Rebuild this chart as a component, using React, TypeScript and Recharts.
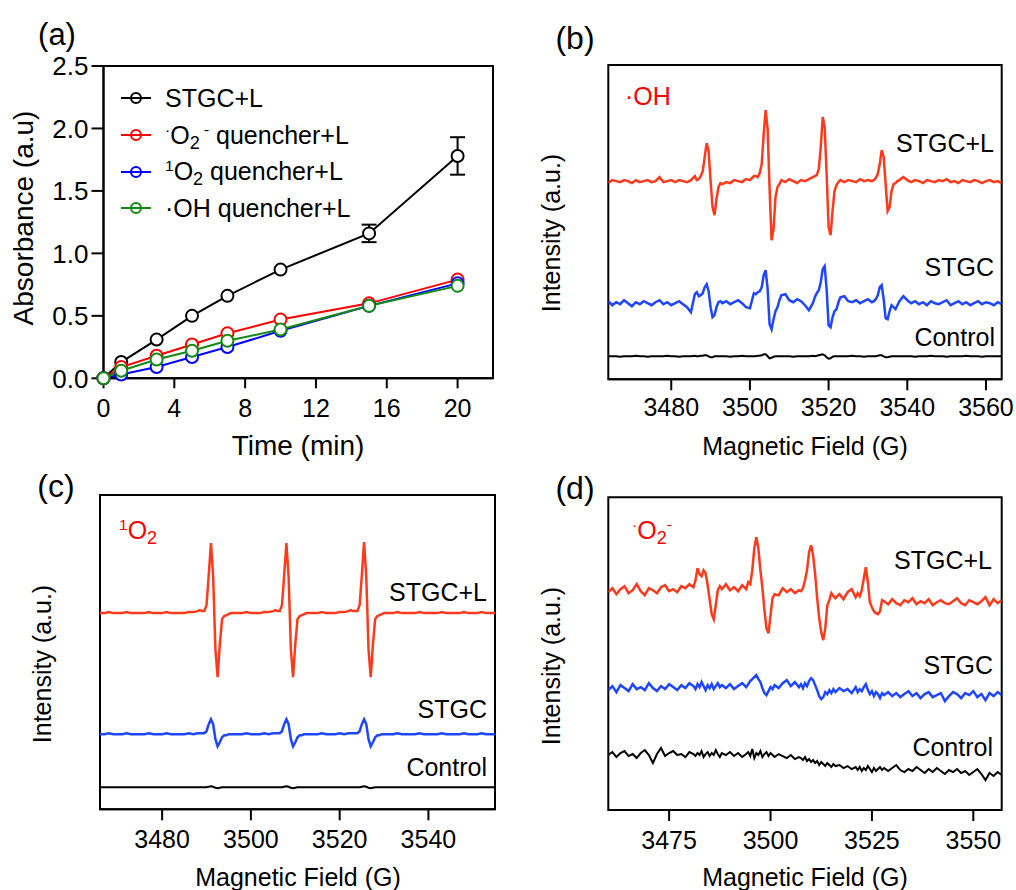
import React from 'react';
import { LineChart, Line, XAxis, YAxis, ErrorBar, Legend, ReferenceArea } from 'recharts';

const FONT = '"Liberation Sans", Arial, Helvetica, sans-serif';
const LABEL_RED = '#ff0000';
const SPEC_RED = '#ff3a1c';
const SPEC_BLUE = '#1e46ff';

// ---- (a) absorbance vs irradiation time ----
const timeMin = [0, 1, 3, 5, 7, 10, 15, 20];
const absStgcL = [0, 0.13, 0.31, 0.5, 0.66, 0.87, 1.16, 1.78];
const absStgcLErr = [0, 0, 0, 0, 0, 0, 0.07, 0.15];
const absO2Quench = [0, 0.09, 0.18, 0.27, 0.36, 0.47, 0.6, 0.79];
const absSingletQuench = [0, 0.03, 0.09, 0.17, 0.25, 0.38, 0.58, 0.76];
const absOHQuench = [0, 0.06, 0.15, 0.22, 0.3, 0.39, 0.58, 0.74];
const timeTicks = [0, 4, 8, 12, 16, 20];
const absTicks = [0, 0.5, 1, 1.5, 2, 2.5];

// ---- (b) DMPO-OH spectra ----
const ohField = [
  3464, 3465, 3466, 3467, 3468, 3469, 3470, 3471, 3472, 3473, 3474, 3475, 3476, 3477, 3478, 3479, 3480, 3481, 3482, 3483, 3484, 3485, 3486,
  3486.5, 3487, 3487.5, 3488, 3488.5, 3489, 3489.5, 3490, 3490.5, 3491, 3491.5, 3492, 3492.5, 3493,
  3494, 3495, 3496, 3497, 3498, 3499, 3500, 3501,
  3501.5, 3502, 3502.5, 3503, 3503.5, 3504, 3504.5, 3505, 3505.5, 3506, 3506.5, 3507, 3507.5, 3508,
  3509, 3510, 3511, 3512, 3513, 3514, 3515, 3516,
  3516.5, 3517, 3517.5, 3518, 3518.5, 3519, 3519.5, 3520, 3520.5, 3521, 3521.5, 3522, 3522.5, 3523,
  3524, 3525, 3526, 3527, 3528, 3529, 3530, 3531,
  3531.5, 3532, 3532.5, 3533, 3533.5, 3534, 3534.5, 3535, 3535.5, 3536, 3536.5, 3537, 3537.5, 3538,
  3539, 3540, 3541, 3542, 3543, 3544, 3545, 3546, 3547, 3548, 3549, 3550, 3551, 3552, 3553, 3554, 3555, 3556, 3557, 3558, 3559, 3560, 3561, 3562, 3563, 3564,
];
const ohStgcL = [
  196, 199, 198, 197, 199, 198, 196, 199, 197, 198, 199, 197, 198, 202, 197, 198, 199, 197, 199, 198, 197, 199, 203,
  199, 200, 203, 208, 222, 236, 228, 198, 172, 164, 180, 192, 196, 195,
  197, 196, 199, 198, 197, 200, 199, 203,
  203, 202, 206, 215, 245, 269, 250, 190, 139, 150, 182, 192, 195, 199,
  197, 200, 198, 196, 199, 198, 200, 202,
  203, 204, 210, 232, 262, 252, 205, 152, 144, 168, 188, 194, 197, 199,
  197, 199, 198, 197, 200, 198, 199, 198,
  199, 201, 205, 215, 229, 222, 195, 168, 172, 188, 195, 196, 198, 199,
  202, 199, 197, 199, 198, 196, 199, 198, 197, 199, 198, 200, 197, 198, 196, 199, 198, 197, 199, 198, 196, 198, 199, 197, 198, 196,
];
const ohStgc = [
  78, 74, 77, 75, 79, 76, 73, 77, 75, 78, 76, 74, 77, 79, 75, 77, 74, 76, 78, 75, 72, 67, 85,
  87, 83, 84, 86, 92, 95, 88, 72, 62, 64, 72, 77, 78, 76,
  78, 75, 77, 79, 76, 72, 71, 86,
  85, 87, 88, 92, 104, 109, 90, 55, 50, 60, 68, 72, 79, 84,
  85, 79, 77, 80, 78, 74, 69, 76,
  82, 86, 89, 97, 110, 113, 90, 54, 52, 62, 68, 70, 77, 82,
  83, 78, 77, 79, 76, 78, 80, 77,
  78, 80, 84, 92, 94, 80, 61, 60, 68, 74, 72, 70, 74, 78,
  83, 79, 76, 78, 75, 77, 74, 78, 76, 75, 77, 79, 74, 76, 78, 75, 77, 74, 76, 78, 75, 77, 76, 74, 77, 75,
];
const ohControl = [
  23, 23, 23, 22.5, 23, 23, 23, 23.5, 23, 23, 22.5, 23, 23, 23, 23, 23.5, 23, 23, 22.5, 23, 23, 23, 23.5,
  23, 23, 23.5, 23.5, 24, 24, 23, 22, 22, 23, 23, 23, 23, 23,
  23, 22.5, 23, 23, 23.5, 23, 23, 23,
  23, 23.5, 23.5, 24, 25, 25, 23, 21, 21.5, 22.5, 23, 23, 23, 23,
  23, 23, 22.5, 23, 23, 23, 23, 23.5,
  23, 23.5, 24, 24.5, 25, 24, 22, 20.5, 21, 22.5, 23, 23, 23, 23,
  23, 23, 23.5, 23, 23, 22.5, 23, 23,
  23, 23, 23.5, 24, 24, 23, 22, 22, 22.5, 23, 23, 23, 23, 23,
  23, 23, 23, 22.5, 23, 23, 23, 23.5, 23, 23, 23, 22.5, 23, 23, 23, 23, 23.5, 23, 23, 23, 22.5, 23, 23, 23, 23, 23,
];
const ohTicks = [3480, 3500, 3520, 3540, 3560];

// ---- (c) TEMP-1O2 spectra ----
const singletField = [
  3466, 3467, 3468, 3469, 3470, 3471, 3472, 3473, 3474, 3475, 3476, 3477, 3478, 3479, 3480, 3481, 3482, 3483, 3484, 3485, 3486, 3487, 3488,
  3488.5, 3489, 3489.5, 3490, 3490.5, 3491, 3491.5, 3492, 3492.5, 3493, 3493.5, 3494, 3494.5, 3495, 3495.5, 3496,
  3497, 3498, 3499, 3500, 3501, 3502, 3503, 3504, 3505,
  3505.5, 3506, 3506.5, 3507, 3507.5, 3508, 3508.5, 3509, 3509.5, 3510, 3510.5, 3511, 3511.5, 3512, 3512.5, 3513,
  3514, 3515, 3516, 3517, 3518, 3519, 3520, 3521, 3522,
  3522.5, 3523, 3523.5, 3524, 3524.5, 3525, 3525.5, 3526, 3526.5, 3527, 3527.5, 3528, 3528.5, 3529, 3529.5, 3530,
  3531, 3532, 3533, 3534, 3535, 3536, 3537, 3538, 3539, 3540, 3541, 3542, 3543, 3544, 3545, 3546, 3547, 3548, 3549, 3550, 3551, 3552, 3553, 3554, 3555,
];
const singletStgcL = [
  196, 196, 197, 196, 196, 196, 197, 196, 196, 196, 196, 197, 196, 196, 196, 197, 196, 196, 196, 196, 197, 197, 198,
  199, 198, 198, 204, 234, 266, 232, 160, 132, 165, 190, 193, 194, 195, 196, 196,
  196, 196, 197, 196, 196, 196, 197, 197, 198,
  199, 198, 198, 204, 234, 266, 232, 160, 132, 165, 190, 193, 194, 195, 196, 196,
  196, 196, 197, 196, 196, 196, 197, 197, 198,
  199, 198, 198, 198, 204, 234, 267, 232, 160, 132, 165, 190, 193, 194, 195, 196,
  196, 196, 197, 196, 196, 196, 196, 197, 196, 196, 196, 196, 197, 196, 196, 196, 196, 197, 196, 196, 196, 197, 196, 196, 196,
];
const singletStgc = [
  75, 75, 76, 75, 75, 75, 76, 75, 75, 75, 75, 76, 75, 75, 75, 76, 75, 75, 75, 75, 76, 75, 76,
  76, 76, 76, 78, 85, 90, 85, 70, 63, 67, 72, 74, 74, 75, 75, 75,
  75, 75, 76, 75, 75, 75, 76, 75, 76,
  76, 76, 76, 78, 85, 90, 85, 70, 63, 67, 72, 74, 74, 75, 75, 75,
  75, 75, 76, 75, 75, 75, 76, 75, 76,
  76, 76, 76, 76, 78, 85, 90, 85, 70, 63, 67, 72, 74, 74, 75, 75,
  75, 75, 76, 75, 75, 75, 75, 76, 75, 75, 75, 75, 76, 75, 75, 75, 75, 76, 75, 75, 75, 76, 75, 75, 75,
];
const singletControl = [
  22, 22, 22, 22, 22, 22, 22, 22, 22, 22, 22, 22, 22, 22, 22, 22, 22, 22, 22, 22, 22, 22, 22,
  22, 22, 22, 22, 22.5, 23, 22.5, 21.5, 21, 21.5, 22, 22, 22, 22, 22, 22,
  22, 22, 22, 22, 22, 22, 22, 22, 22,
  22, 22, 22, 22, 22.5, 23, 22.5, 21.5, 21, 21.5, 22, 22, 22, 22, 22, 22,
  22, 22, 22, 22, 22, 22, 22, 22, 22,
  22, 22, 22, 22, 22, 22.5, 23, 22.5, 21.5, 21, 21.5, 22, 22, 22, 22, 22,
  22, 22, 22, 22, 22, 22, 22, 22, 22, 22, 22, 22, 22, 22, 22, 22, 22, 22, 22, 22, 22, 22, 22, 22, 22,
];
const singletTicks = [3480, 3500, 3520, 3540];

// ---- (d) DMPO-OOH spectra ----
const supField = [
  3460, 3461, 3462, 3463, 3464, 3465, 3466, 3467, 3468, 3469, 3470, 3471, 3472, 3473, 3474, 3475, 3476, 3477, 3478, 3479, 3480, 3481,
  3481.5, 3482, 3482.5, 3483, 3483.5, 3484, 3484.5, 3485, 3485.5, 3486, 3486.5, 3487, 3487.5, 3488,
  3489, 3490, 3491, 3492, 3493, 3494,
  3494.5, 3495, 3495.5, 3496, 3496.5, 3497, 3497.5, 3498, 3498.5, 3499, 3499.5, 3500, 3500.5, 3501,
  3502, 3503, 3504, 3505, 3506, 3507,
  3507.5, 3508, 3508.5, 3509, 3509.5, 3510, 3510.5, 3511, 3511.5, 3512, 3512.5, 3513, 3513.5, 3514, 3514.5, 3515, 3515.5, 3516,
  3517, 3518, 3519, 3520, 3521,
  3521.5, 3522, 3522.5, 3523, 3523.5, 3524, 3524.5, 3525, 3525.5, 3526, 3526.5, 3527, 3527.5, 3528,
  3529, 3530, 3531, 3532, 3533, 3534, 3535, 3536, 3537, 3538, 3539, 3540, 3541, 3542, 3543, 3544, 3545, 3546, 3547, 3548, 3549, 3550, 3551, 3552, 3553, 3554, 3555, 3556, 3557,
];
const supStgcL = [
  218, 222, 216, 221, 224, 217, 220, 226, 219, 215, 222, 220, 217, 223, 225, 219, 221, 218, 224, 222, 226, 223,
  230, 242, 236, 234, 240, 237, 225, 210, 196, 191, 205, 220, 224, 221,
  226, 220, 223, 219, 225, 221,
  228, 226, 240, 262, 273, 262, 240, 222, 200, 182, 177, 195, 212, 216,
  215, 222, 218, 221, 217, 220,
  219, 222, 230, 240, 258, 265, 255, 236, 212, 192, 178, 170, 182, 205, 210, 217, 214, 212,
  216, 211, 218, 221, 213,
  217, 214, 220, 232, 243, 228, 208, 203, 199, 197, 196, 199, 210, 209,
  206, 211, 207, 205, 210, 208, 212, 206, 209, 207, 211, 205, 208, 210, 207, 206, 209, 212, 207, 205, 210, 208, 206, 209, 213, 205, 211, 207, 210,
];
const supStgc = [
  120, 124, 118, 125, 122, 119, 126, 121, 123, 120, 127, 122, 119, 124, 121, 126, 123, 120, 125, 122, 127, 124,
  121, 126, 123, 128, 124, 120, 125, 122, 126, 121, 124, 127, 123, 125,
  122, 126, 121, 124, 127, 123,
  126, 129, 131, 133, 135, 131, 128, 122, 117, 115, 119, 123, 121, 125,
  122, 127, 130, 124, 128, 123,
  126, 122, 127, 124, 129, 132, 130, 125, 120, 114, 111, 113, 118, 116, 120, 117, 121, 118,
  122, 119, 121, 117, 123,
  118, 121, 119, 123, 126, 120, 116, 119, 114, 118, 116, 112, 117, 115,
  118, 114, 117, 113, 116, 119, 114, 117, 112, 116, 118, 113, 115, 117, 109, 114, 118, 116, 112, 117, 115, 119, 113, 116, 110, 117, 114, 118, 115,
];
const supControl = [
  55, 58, 53, 57, 59, 54, 56, 52, 57, 60, 55, 47, 56, 62, 54, 57, 59, 55, 56, 53, 58, 56,
  54, 57, 55, 59, 53, 56, 58, 54, 57, 55, 60, 56, 53, 57,
  55, 58, 54, 57, 53, 56,
  58, 54, 61, 52, 57, 55, 59, 53, 56, 58, 54, 57, 55, 53,
  56, 54, 52, 55, 51, 53,
  52, 50, 53, 49, 51, 48, 50, 47, 49, 45, 48, 46, 44, 47, 45, 43, 46, 44,
  45, 42, 44, 41, 43,
  40, 43, 39, 42, 40, 44, 41, 38, 42, 39, 41, 43, 40, 42,
  39, 42, 45, 40, 38, 41, 39, 43, 40, 37, 41, 38, 42, 39, 36, 40, 38, 41, 37, 39, 35, 38, 41, 36, 30, 37, 34, 38, 35,
];
const supTicks = [3475, 3500, 3525, 3550];

const axisStroke = { stroke: '#000', strokeWidth: 2 };

const Sup = ({ children }: { children: React.ReactNode }) => (
  <span style={{ fontSize: '0.62em', verticalAlign: '0.55em', lineHeight: 0 }}>{children}</span>
);
const Sub = ({ children }: { children: React.ReactNode }) => (
  <span style={{ fontSize: '0.72em', verticalAlign: '-0.3em', lineHeight: 0 }}>{children}</span>
);

type TxtProps = {
  x: number;
  y: number;
  size: number;
  color?: string;
  anchor?: 'start' | 'middle' | 'end';
  rotate?: boolean;
  children: React.ReactNode;
};

function Txt({ x, y, size, color = '#000', anchor = 'middle', rotate = false, children }: TxtProps) {
  const tx = anchor === 'start' ? '0' : anchor === 'end' ? '-100%' : '-50%';
  return (
    <div
      style={{
        position: 'absolute',
        left: x,
        top: y,
        transform: `translate(${tx}, -50%)${rotate ? ' rotate(-90deg)' : ''}`,
        fontSize: size,
        lineHeight: 1,
        color,
        whiteSpace: 'nowrap',
        fontFamily: FONT,
      }}
    >
      {children}
    </div>
  );
}

// series of panel (a), in drawing and legend order
const absSeries = [
  { key: 'stgcL', color: '#000000' },
  { key: 'o2', color: '#ff0000' },
  { key: 'singlet', color: '#0000ff' },
  { key: 'oh', color: '#138a13' },
];

const legendLabels: Record<string, React.ReactNode> = {
  stgcL: 'STGC+L',
  o2: (
    <>
      <Sup>·</Sup>O<Sub>2</Sub>
      <Sup>&nbsp;-</Sup> quencher+L
    </>
  ),
  singlet: (
    <>
      <Sup>1</Sup>O<Sub>2</Sub> quencher+L
    </>
  ),
  oh: '·OH quencher+L',
};

function AbsorbanceLegend(props: any) {
  const payload: any[] = props.payload || [];
  const order = absSeries.map((s) => s.key);
  const items = [...payload].sort((a, b) => order.indexOf(a.dataKey) - order.indexOf(b.dataKey));
  return (
    <div style={{ fontFamily: FONT, fontSize: 25, color: '#000' }}>
      {items.map((entry: any) => (
        <div key={entry.dataKey} style={{ display: 'flex', alignItems: 'center', height: 36.7 }}>
          <svg width={30} height={14} style={{ marginRight: 14, flex: 'none' }}>
            <line x1={0} y1={7} x2={30} y2={7} stroke={entry.color} strokeWidth={2} />
            <circle cx={15} cy={7} r={5} fill="none" stroke={entry.color} strokeWidth={2} />
          </svg>
          <span style={{ lineHeight: 1, whiteSpace: 'nowrap' }}>{legendLabels[entry.dataKey]}</span>
        </div>
      ))}
    </div>
  );
}

function AbsorbancePanel() {
  const data = timeMin.map((t, i) => ({
    t,
    stgcL: absStgcL[i],
    err: absStgcLErr[i],
    o2: absO2Quench[i],
    singlet: absSingletQuench[i],
    oh: absOHQuench[i],
  }));
  return (
    <div style={{ position: 'absolute', left: 0, top: 0 }}>
      <LineChart width={508} height={450} data={data} margin={{ top: 66, right: 15, bottom: 31.7, left: 43.5 }}>
        <XAxis
          dataKey="t"
          type="number"
          domain={[0, 22]}
          ticks={timeTicks}
          height={40}
          tickSize={10}
          tickMargin={11}
          axisLine={axisStroke}
          tickLine={axisStroke}
          tick={{ fill: '#000', fontSize: 25, fontFamily: FONT }}
        />
        <YAxis
          type="number"
          domain={[0, 2.5]}
          ticks={absTicks}
          tickFormatter={(v: number) => v.toFixed(1)}
          width={60}
          tickSize={12}
          tickMargin={3}
          axisLine={axisStroke}
          tickLine={axisStroke}
          tick={{ fill: '#000', fontSize: 26, fontFamily: FONT }}
        />
        <ReferenceArea x1={0} x2={22} y1={0} y2={2.5} fill="none" stroke="#000" strokeWidth={2} />
        <Legend
          layout="vertical"
          align="center"
          verticalAlign="middle"
          wrapperStyle={{ left: 121, top: 80, width: 'auto' }}
          content={<AbsorbanceLegend />}
        />
        {absSeries.map((s) => (
          <Line
            key={s.key}
            dataKey={s.key}
            stroke={s.color}
            strokeWidth={2}
            dot={{ r: 6, fill: '#fff', stroke: s.color, strokeWidth: 2 }}
            activeDot={false}
            isAnimationActive={false}
          >
            {s.key === 'stgcL' && (
              <ErrorBar dataKey="err" direction="y" width={7.5} stroke="#000" strokeWidth={2} />
            )}
          </Line>
        ))}
      </LineChart>
    </div>
  );
}

type EprPanelProps = {
  left: number;
  top: number;
  width: number;
  height: number;
  margin: { top: number; right: number; bottom: number; left: number };
  field: number[];
  stgcL: number[];
  stgc: number[];
  control: number[];
  domain: [number, number];
  ticks: number[];
  yMax: number;
  tickSize: number;
  tickMargin: number;
};

function EprPanel(p: EprPanelProps) {
  const data = p.field.map((f, i) => ({ f, stgcL: p.stgcL[i], stgc: p.stgc[i], control: p.control[i] }));
  return (
    <div style={{ position: 'absolute', left: p.left, top: p.top }}>
      <LineChart width={p.width} height={p.height} data={data} margin={p.margin}>
        <XAxis
          dataKey="f"
          type="number"
          domain={p.domain}
          ticks={p.ticks}
          allowDataOverflow
          height={40}
          tickSize={p.tickSize}
          tickMargin={p.tickMargin}
          axisLine={axisStroke}
          tickLine={axisStroke}
          tick={{ fill: '#000', fontSize: 25, fontFamily: FONT }}
        />
        <YAxis hide type="number" domain={[0, p.yMax]} allowDataOverflow />
        <ReferenceArea x1={p.domain[0]} x2={p.domain[1]} y1={0} y2={p.yMax} fill="none" stroke="#000" strokeWidth={2} />
        <Line dataKey="control" stroke="#000" strokeWidth={2} dot={false} activeDot={false} isAnimationActive={false} />
        <Line dataKey="stgc" stroke={SPEC_BLUE} strokeWidth={2.5} dot={false} activeDot={false} isAnimationActive={false} />
        <Line dataKey="stgcL" stroke={SPEC_RED} strokeWidth={2.5} dot={false} activeDot={false} isAnimationActive={false} />
      </LineChart>
    </div>
  );
}

export default function App() {
  return (
    <div
      style={{
        position: 'absolute',
        left: 0,
        top: 0,
        width: 1016,
        height: 890,
        background: '#fff',
        fontFamily: FONT,
        overflow: 'hidden',
      }}
    >
      <AbsorbancePanel />
      <EprPanel
        left={500}
        top={0}
        width={516}
        height={450}
        margin={{ top: 65, right: 14.3, bottom: 30.7, left: 108.3 }}
        field={ohField}
        stgcL={ohStgcL}
        stgc={ohStgc}
        control={ohControl}
        domain={[3464, 3564]}
        ticks={ohTicks}
        yMax={314}
        tickSize={11}
        tickMargin={8}
      />
      <EprPanel
        left={0}
        top={450}
        width={508}
        height={440}
        margin={{ top: 45, right: 13, bottom: 40.7, left: 100 }}
        field={singletField}
        stgcL={singletStgcL}
        stgc={singletStgc}
        control={singletControl}
        domain={[3466, 3555]}
        ticks={singletTicks}
        yMax={314}
        tickSize={11}
        tickMargin={10}
      />
      <EprPanel
        left={500}
        top={450}
        width={516}
        height={440}
        margin={{ top: 47.3, right: 14.3, bottom: 40, left: 108.3 }}
        field={supField}
        stgcL={supStgcL}
        stgc={supStgc}
        control={supControl}
        domain={[3460, 3557]}
        ticks={supTicks}
        yMax={313}
        tickSize={11}
        tickMargin={10}
      />

      {/* panel letters */}
      <Txt x={57} y={34} size={31}>(a)</Txt>
      <Txt x={575} y={38} size={32}>(b)</Txt>
      <Txt x={56} y={486} size={32}>(c)</Txt>
      <Txt x={575} y={488} size={32}>(d)</Txt>

      {/* axis titles */}
      <Txt x={24} y={218} size={28} rotate>Absorbance (a.u)</Txt>
      <Txt x={298} y={446} size={28}>Time (min)</Txt>
      <Txt x={551} y={233} size={25} rotate>Intensity (a.u.)</Txt>
      <Txt x={805} y={446} size={25}>Magnetic Field (G)</Txt>
      <Txt x={42} y={664} size={25} rotate>Intensity (a.u.)</Txt>
      <Txt x={298} y={877} size={25}>Magnetic Field (G)</Txt>
      <Txt x={551} y={666} size={25} rotate>Intensity (a.u.)</Txt>
      <Txt x={805} y={877} size={25}>Magnetic Field (G)</Txt>

      {/* species */}
      <Txt x={625} y={96} size={25} color={LABEL_RED} anchor="start">·OH</Txt>
      <Txt x={119} y={530} size={25} color={LABEL_RED} anchor="start">
        <Sup>1</Sup>O<Sub>2</Sub>
      </Txt>
      <Txt x={632} y={530} size={25} color={LABEL_RED} anchor="start">
        <Sup>·</Sup>O<Sub>2</Sub>
        <Sup>-</Sup>
      </Txt>

      {/* trace names */}
      <Txt x={994} y={143} size={25} anchor="end">STGC+L</Txt>
      <Txt x={994} y={267} size={25} anchor="end">STGC</Txt>
      <Txt x={995} y={337} size={25} anchor="end">Control</Txt>
      <Txt x={487} y={592} size={25} anchor="end">STGC+L</Txt>
      <Txt x={487} y={709} size={25} anchor="end">STGC</Txt>
      <Txt x={487} y={767} size={25} anchor="end">Control</Txt>
      <Txt x={992} y={560} size={25} anchor="end">STGC+L</Txt>
      <Txt x={993} y={665} size={25} anchor="end">STGC</Txt>
      <Txt x={993} y={747} size={25} anchor="end">Control</Txt>
    </div>
  );
}
